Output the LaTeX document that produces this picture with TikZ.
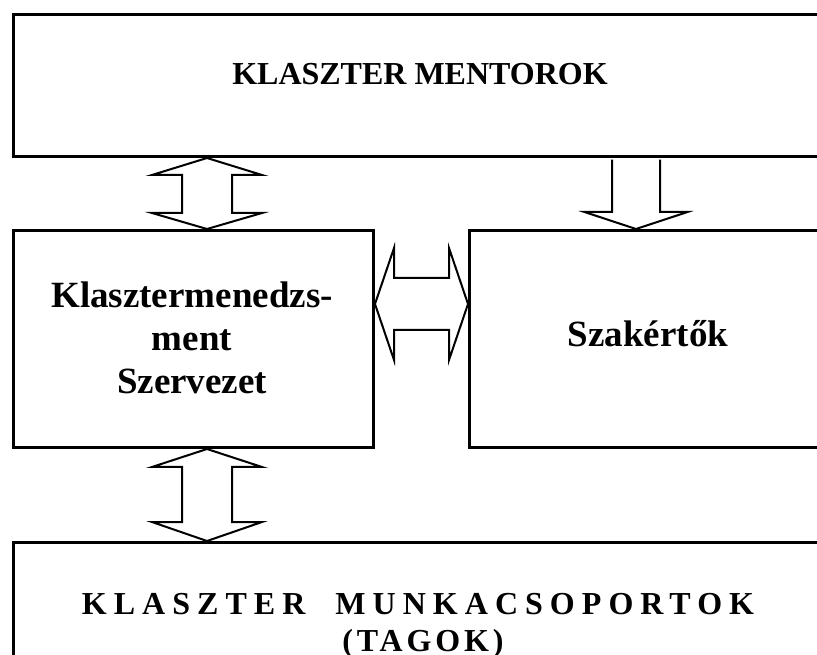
\documentclass[tikz,border=0pt]{standalone}
\usepackage{fontspec}
\setmainfont{Liberation Serif}
\usetikzlibrary{calc}
\begin{document}
\begin{tikzpicture}[x=0.75pt,y=-0.75pt,
  box/.style={draw, line width=2.25pt, inner sep=0pt, anchor=north west},
  blk/.style={draw, line width=1.5pt, fill=white, line join=miter, miter limit=20},
  lbl/.style={font=\bfseries\fontsize{24}{27.75}\selectfont, inner sep=0pt},
  big/.style={font=\bfseries\fontsize{27.75}{32.25}\selectfont, align=center, inner sep=0pt},
  spaced/.style={font=\bfseries\fontsize{24}{27.75}\selectfont\addfontfeatures{LetterSpace=22}, inner sep=0pt},
  semispaced/.style={font=\bfseries\fontsize{24}{27.75}\selectfont\addfontfeatures{LetterSpace=12}, inner sep=0pt},
]
\useasboundingbox (0,0) rectangle (817,655);
\fill[white] (0,0) rectangle (817,655);

% boxes
\node[box, minimum width=613.5pt, minimum height=106.5pt] (top) at (12,13) {};
\node[box, minimum width=270pt, minimum height=162.75pt] (ml) at (12,229) {};
\node[box, minimum width=271.5pt, minimum height=162.75pt] (mr) at (468,229) {};
\node[box, minimum width=613.5pt, minimum height=97.5pt] (bot) at (12,541) {};

% labels
\node[lbl, anchor=base] (topl) at (420,85) {KLASZTER MENTOROK};
\node[big, anchor=center] (mll) at (192,338) {Klasztermenedzs-\\ment\\Szervezet};
\node[big, anchor=base] (mrl) at (648,347) {Szakértők};
\node[spaced, anchor=base] (botl) at (418,614) {KLASZTER\hspace{22.5pt}MUNKACSOPORTOK};
\node[semispaced, anchor=base] (botm) at (423,651) {(TAGOK)};

% arrow positions
\coordinate (ax) at (207,0);
\coordinate (bx) at (636,0);
\coordinate (hy) at (0,304);

% top <-> middle-left
\coordinate (t1) at (ax |- top.south);
\coordinate (b1) at (ax |- ml.north);
\draw[blk] (t1) -- ($(t1)+(55,17)$) -- ($(t1)+(25,17)$) -- ($(b1)+(25,-16)$) -- ($(b1)+(55,-16)$)
  -- (b1) -- ($(b1)+(-55,-16)$) -- ($(b1)+(-25,-16)$) -- ($(t1)+(-25,17)$) -- ($(t1)+(-55,17)$) -- cycle;

% top -> middle-right
\coordinate (t2) at (bx |- top.south);
\coordinate (b2) at (bx |- mr.north);
\draw[blk] ($(t2)+(-24,1.6)$) -- ($(b2)+(-24,-17)$) -- ($(b2)+(-51.5,-17)$) -- (b2)
  -- ($(b2)+(51.5,-17)$) -- ($(b2)+(24,-17)$) -- ($(t2)+(24,1.6)$);

% middle-left <-> middle-right
\coordinate (l3) at (ml.east |- hy);
\coordinate (r3) at (mr.west |- hy);
\draw[blk] (l3) -- ($(l3)+(19,-56)$) -- ($(l3)+(19,-26)$) -- ($(r3)+(-19,-26)$) -- ($(r3)+(-19,-56)$)
  -- (r3) -- ($(r3)+(-19,56)$) -- ($(r3)+(-19,26)$) -- ($(l3)+(19,26)$) -- ($(l3)+(19,56)$) -- cycle;

% middle-left <-> bottom
\coordinate (t4) at (ax |- ml.south);
\coordinate (b4) at (ax |- bot.north);
\draw[blk] (t4) -- ($(t4)+(55,18)$) -- ($(t4)+(25,18)$) -- ($(b4)+(25,-19)$) -- ($(b4)+(55,-19)$)
  -- (b4) -- ($(b4)+(-55,-19)$) -- ($(b4)+(-25,-19)$) -- ($(t4)+(-25,18)$) -- ($(t4)+(-55,18)$) -- cycle;
\end{tikzpicture}
\end{document}
